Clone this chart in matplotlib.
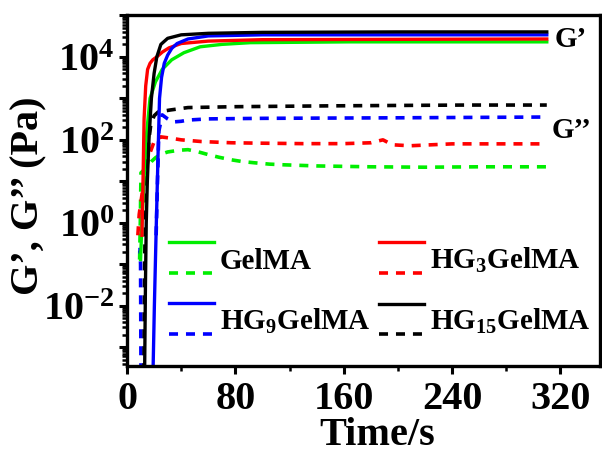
import numpy as np
import matplotlib
matplotlib.use("Agg")
import matplotlib.pyplot as plt
from matplotlib.legend_handler import HandlerBase
from matplotlib.lines import Line2D
from matplotlib.ticker import FixedLocator, FuncFormatter, LogLocator, NullFormatter

plt.rcParams['font.family'] = ['Liberation Serif', 'DejaVu Serif']
plt.rcParams['font.weight'] = 'bold'
plt.rcParams['mathtext.default'] = 'regular'

# storage modulus G' (Pa) vs time (s)
t_gelma_g1 = [10.0, 11.0, 12.5, 14.0, 17.0, 21.0, 26.0, 33.0, 42.0, 54.0, 70.0, 91.0, 164, 310]
gelma_g1 = [0.13, 1.0, 10, 100, 1000, 2500, 5000, 8500, 1.26e4, 1.75e4, 2.0e4, 2.2e4, 2.3e4, 2.3e4]
t_hg3_g1 = [11.0, 11.8, 12.6, 13.8, 15.2, 17, 19, 22, 26, 31, 40, 60, 100, 310]
hg3_g1 = [0.5, 10, 320, 2000, 5000, 7000, 8500, 1.0e4, 1.3e4, 1.65e4, 2.1e4, 2.4e4, 2.6e4, 2.7e4]
t_hg9_g1 = [19.2, 20.2, 21.5, 22.8, 24.0, 25.5, 27.5, 30, 33, 37, 45, 60, 100, 310]
hg9_g1 = [2.5e-4, 0.01, 0.63, 32, 1000, 3200, 7000, 1.1e4, 1.6e4, 2.1e4, 2.7e4, 3.2e4, 3.4e4, 3.4e4]
t_hg15_g1 = [13.0, 13.6, 14.2, 15.0, 16.2, 18.0, 20.0, 22.0, 25.0, 30.0, 40.0, 60.0, 100, 200, 310]
hg15_g1 = [2.5e-4, 0.03, 1.0, 10, 100, 1e3, 4e3, 1e4, 2e4, 2.8e4, 3.4e4, 3.7e4, 3.9e4, 4.0e4, 4.0e4]

# loss modulus G'' (Pa) vs time (s)
t_gelma_g2 = [9.3, 9.8, 10.3, 14, 18, 21, 25, 30, 38, 45, 52, 60, 68, 77, 85, 94, 105, 116, 140, 180, 220, 260, 310]
gelma_g2 = [0.13, 1.0, 16, 21, 30, 37, 45, 51, 56, 58, 52, 44, 38, 33, 30, 28, 26, 25, 23.5, 22.4, 21.9, 22.4, 22.4]
t_hg3_g2 = [8.0, 9.0, 12, 16, 20, 25, 32, 40, 55, 77, 100, 130, 160, 180, 189, 196, 209, 240, 280, 310]
hg3_g2 = [0.5, 1.6, 8, 40, 90, 118, 110, 100, 91, 85, 83, 81, 81, 85, 100, 76, 72, 80, 80, 80]
t_hg9_g2 = [10.3, 10.0, 9.6, np.nan, 21.5, 22.5, 23.5, 26, 30, 34, 40, 45, 60, 100, 200, 310]
hg9_g2 = [2.5e-4, 0.1, 0.25, np.nan, 0.5, 10, 160, 400, 320, 270, 280, 300, 320, 330, 340, 355]
t_hg15_g2 = [12.5, 13.0, 14.0, 15.0, 16.5, 17.5, 20, 23, 32, 45, 80, 150, 250, 310]
hg15_g2 = [2.5e-4, 0.1, 10, 40, 125, 225, 380, 470, 525, 600, 630, 660, 690, 690]

labels = ['GelMA', 'HG$_3$GelMA', 'HG$_9$GelMA', 'HG$_{15}$GelMA']
colors = ['#00ee00', '#ff0000', '#0000ff', '#000000']


class PairHandler(HandlerBase):
    # solid line on top, dashed line below, like the original legend
    def create_artists(self, legend, orig_handle, xdescent, ydescent,
                       width, height, fontsize, trans):
        out = []
        yc = (height - ydescent) / 2
        for h, dy in zip(orig_handle, (0.55 * fontsize, -0.5 * fontsize)):
            ln = Line2D([-xdescent, width - xdescent], [yc + dy, yc + dy])
            ln.update_from(h)
            ln.set_transform(trans)
            out.append(ln)
        return out


fig = plt.figure(figsize=(6.02, 4.54), dpi=100)
ax = fig.add_axes([0.211, 0.194, 0.785, 0.773])

dash = (0, (2.5, 2.2))
g2_data = [(t_gelma_g2, gelma_g2), (t_hg3_g2, hg3_g2), (t_hg9_g2, hg9_g2), (t_hg15_g2, hg15_g2)]
g1_data = [(t_gelma_g1, gelma_g1), (t_hg3_g1, hg3_g1), (t_hg9_g1, hg9_g1), (t_hg15_g1, hg15_g1)]

handles = []
for (tx, y), c in zip(g2_data, colors):
    d, = ax.plot(tx, y, color=c, lw=2.6, linestyle=dash)
    handles.append([None, d])
for i in [0, 1, 2, 3]:
    tx, y = g1_data[i]
    s, = ax.plot(tx, y, color=colors[i], lw=2.4)
    handles[i][0] = s
handles = [tuple(h) for h in handles]

ax.set_yscale('log')
ax.set_xlim(0, 349)
ax.set_ylim(10 ** -3.45, 10 ** 5.01)

ax.xaxis.set_major_locator(FixedLocator([0, 80, 160, 240, 320]))
ax.xaxis.set_minor_locator(FixedLocator([40, 120, 200, 280]))
ax.yaxis.set_major_locator(FixedLocator([10.0 ** k for k in range(-3, 6)]))
ax.yaxis.set_minor_locator(LogLocator(base=10, subs=np.arange(2, 10), numticks=20))
ax.yaxis.set_minor_formatter(NullFormatter())


def ylab(v, pos):
    k = int(round(np.log10(v)))
    if k % 2 == 0 and -2 <= k <= 4:
        return '10$^{%d}$' % k
    return ''


ax.yaxis.set_major_formatter(FuncFormatter(ylab))
ax.tick_params(axis='both', which='major', labelsize=29, width=2.2, length=6, direction='out', pad=3)
ax.tick_params(axis='both', which='minor', width=1.8, length=3.5, direction='out')
ax.tick_params(axis='x', which='major', pad=5)
for sp in ax.spines.values():
    sp.set_linewidth(2.4)

ax.set_xlabel('Time/s', fontsize=29, fontweight='bold')
ax.set_ylabel('G’, G’’ (Pa)', fontsize=29, fontweight='bold')
ax.xaxis.set_label_coords(0.529, -0.145)
ax.yaxis.set_label_coords(-0.169, 0.484)

ax.text(0.905, 0.929, 'G’', transform=ax.transAxes, fontsize=21, fontweight='bold', va='center')
ax.text(0.898, 0.672, 'G’’', transform=ax.transAxes, fontsize=21, fontweight='bold', va='center')

# legend fills column by column: GelMA, HG9 | HG3, HG15
order = [0, 2, 1, 3]
ax.legend([handles[i] for i in order], [labels[i] for i in order],
          handler_map={tuple: PairHandler()}, ncol=2, frameon=False,
          loc='upper left', bbox_to_anchor=(0.088, 0.343), fontsize=21,
          handlelength=1.55, handletextpad=0.2, labelspacing=1.1, columnspacing=0.3,
          borderpad=0, borderaxespad=0)

fig.savefig('out.png', dpi=100)
